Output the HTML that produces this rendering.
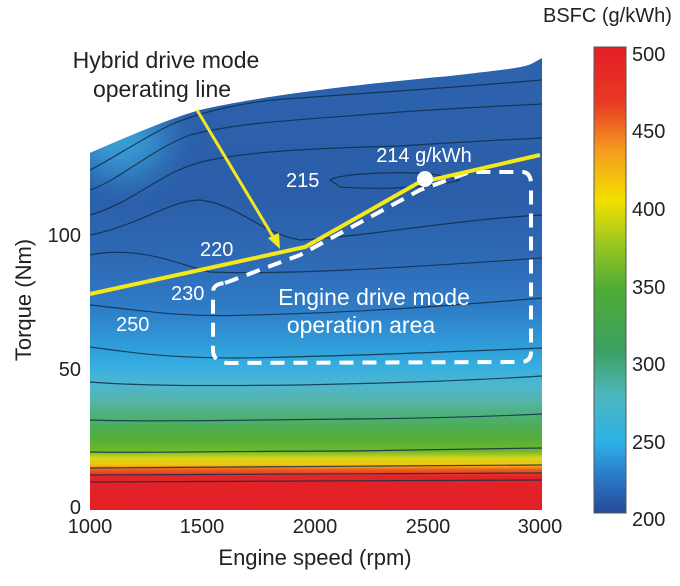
<!DOCTYPE html>
<html><head><meta charset="utf-8"><style>
html,body{margin:0;padding:0;background:#fff;}
svg{display:block;font-family:"Liberation Sans",sans-serif;}
</style></head><body>
<svg width="680" height="586" viewBox="0 0 680 586" xmlns="http://www.w3.org/2000/svg">
<defs>
<linearGradient id="map" x1="0" y1="60" x2="0" y2="510" gradientUnits="userSpaceOnUse">
<stop offset="0" stop-color="#2d62ae"/>
<stop offset="0.3" stop-color="#2b5ea9"/>
<stop offset="0.45" stop-color="#2f6ab6"/>
<stop offset="0.55" stop-color="#2f7cc6"/>
<stop offset="0.63" stop-color="#2f9ad8"/>
<stop offset="0.68" stop-color="#36aee0"/>
<stop offset="0.72" stop-color="#4cb6d0"/>
<stop offset="0.76" stop-color="#55b4a6"/>
<stop offset="0.8" stop-color="#4caf6a"/>
<stop offset="0.84" stop-color="#52ad38"/>
<stop offset="0.87" stop-color="#74b82c"/>
<stop offset="0.885" stop-color="#d8d818"/>
<stop offset="0.9" stop-color="#f4c010"/>
<stop offset="0.91" stop-color="#ee6020"/>
<stop offset="0.925" stop-color="#e22428"/>
<stop offset="1" stop-color="#e41e26"/>
</linearGradient>
<filter id="blur" x="-50%" y="-50%" width="200%" height="200%"><feGaussianBlur stdDeviation="18"/></filter>
<linearGradient id="cb" x1="0" y1="47" x2="0" y2="513" gradientUnits="userSpaceOnUse">
<stop offset="0" stop-color="#e41e26"/>
<stop offset="0.12" stop-color="#e83a24"/>
<stop offset="0.22" stop-color="#f59a20"/>
<stop offset="0.33" stop-color="#f3e000"/>
<stop offset="0.42" stop-color="#9cc820"/>
<stop offset="0.52" stop-color="#4eac36"/>
<stop offset="0.65" stop-color="#3ca060"/>
<stop offset="0.75" stop-color="#4cb8c0"/>
<stop offset="0.85" stop-color="#2cb0e8"/>
<stop offset="0.93" stop-color="#2a74c4"/>
<stop offset="1" stop-color="#264a98"/>
</linearGradient>
<clipPath id="mc"><path d="M90,153 C120,140 170,118 200,110 C260,96 360,84 450,76 C500,70 525,68 533,63 L542,58 L542,510 L90,510 Z"/></clipPath>
</defs>
<g clip-path="url(#mc)">
<rect x="88" y="55" width="456" height="457" fill="url(#map)"/>
<ellipse cx="120" cy="140" rx="45" ry="35" fill="#3cace0" opacity="0.85" filter="url(#blur)"/>
<g fill="none" stroke="#10304a" stroke-width="1.2" opacity="0.85">
<path d="M90,170 C110,160 140,140 170,125 C200,112 250,100 300,98 C380,92 450,88 542,80"/>
<path d="M90,190 C120,180 150,150 190,135 C240,122 300,120 400,112 C460,108 500,106 542,104"/>
<path d="M90,215 C140,200 160,170 210,160 C260,150 330,148 400,146 C460,142 500,140 542,138"/>
<path d="M90,235 C140,225 170,200 200,200 C240,205 260,233 300,240 C380,235 450,220 542,215"/>
<path d="M330,180 C340,174 380,172 420,173 C440,174 450,178 460,180 C430,188 380,190 340,187 Z"/>
<path d="M90,255 C140,245 180,265 210,272 C280,275 400,268 542,258"/>
<path d="M90,305 C140,310 180,318 250,315 C350,313 450,306 542,298"/>
<path d="M90,347 C130,352 160,358 240,358 C350,356 450,352 542,348"/>
<path d="M90,382 C140,386 200,386 300,385 C400,383 480,380 542,376"/>
<path d="M90,420 C150,422 250,420 350,419 C450,418 500,416 542,414"/>
<path d="M90,452 C150,453 250,451 350,451 C450,450 500,449 542,448"/>
<path d="M90,468 C200,467 400,466 542,465"/>
<path d="M90,475 C200,474 400,474 542,473"/>
<path d="M90,482 C200,481 400,481 542,480"/>
</g>
</g>
<path d="M225,283 L300,255 L420,190 L470,172 L522,172 Q531,172 531,185 L531,352 Q531,362 520,362 L228,363 Q213,362 213,350 L213,292 Q213,284 225,283" fill="none" stroke="#fff" stroke-width="4" stroke-dasharray="14,9"/>
<polyline points="90,294 305,247 418,183 540,155" fill="none" stroke="#f5e81a" stroke-width="4"/>
<line x1="197" y1="110" x2="275" y2="240" stroke="#f5e81a" stroke-width="3"/>
<polygon points="280,249 268,238 279,233" fill="#f5e81a"/>
<circle cx="425" cy="179" r="8" fill="#fff"/>
<g fill="#fff" font-size="20">
<text x="424" y="162" text-anchor="middle">214 g/kWh</text>
<text x="286" y="187">215</text>
<text x="200" y="256">220</text>
<text x="171" y="300">230</text>
<text x="116" y="331">250</text>
<text x="374" y="305" text-anchor="middle" font-size="23">Engine drive mode</text>
<text x="361" y="333" text-anchor="middle" font-size="23">operation area</text>
</g>
<g fill="#222" font-size="23">
<text x="166" y="68" text-anchor="middle">Hybrid drive mode</text>
<text x="162" y="97" text-anchor="middle">operating line</text>
</g>
<g fill="#222" font-size="20" text-anchor="end">
<text x="81" y="242">100</text>
<text x="81" y="376">50</text>
<text x="81" y="514">0</text>
</g>
<g fill="#222" font-size="20" text-anchor="middle">
<text x="90" y="533">1000</text>
<text x="202" y="533">1500</text>
<text x="315" y="533">2000</text>
<text x="428" y="533">2500</text>
<text x="540" y="533">3000</text>
<text x="315" y="565" font-size="22">Engine speed (rpm)</text>
</g>
<text transform="translate(31,300) rotate(-90)" fill="#222" font-size="22" text-anchor="middle">Torque (Nm)</text>
<rect x="594" y="47" width="32" height="466" fill="url(#cb)" stroke="#555" stroke-width="1"/>
<g fill="#222" font-size="20">
<text x="632" y="61">500</text>
<text x="632" y="138">450</text>
<text x="632" y="216">400</text>
<text x="632" y="294">350</text>
<text x="632" y="371">300</text>
<text x="632" y="449">250</text>
<text x="632" y="526">200</text>
<text x="543" y="22">BSFC (g/kWh)</text>
</g>
</svg>
</body></html>
